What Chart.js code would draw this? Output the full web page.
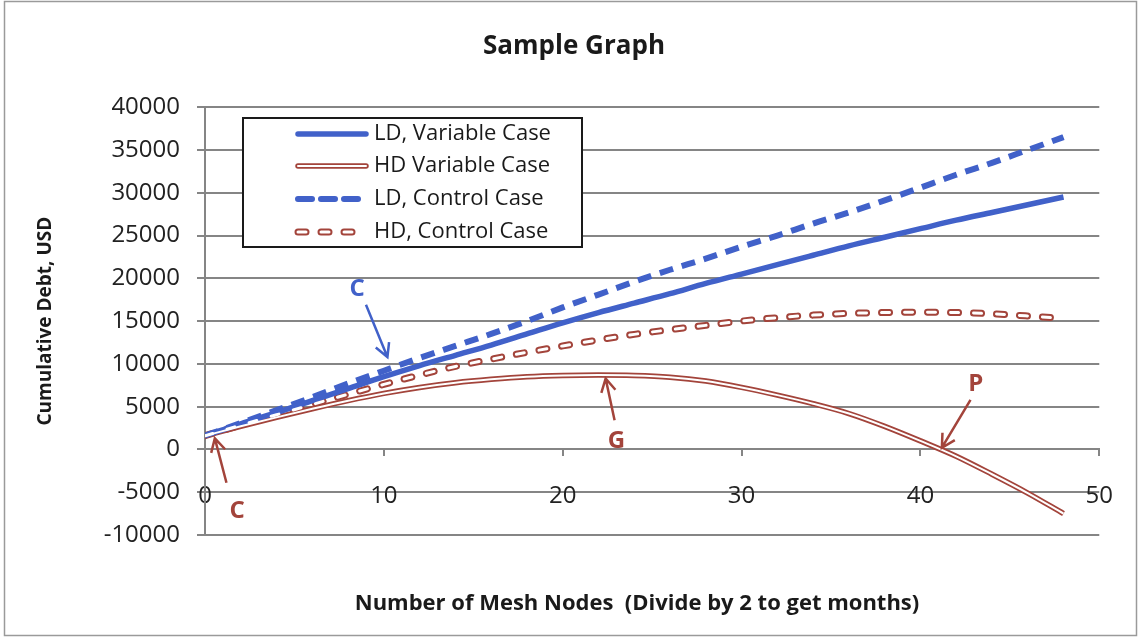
<!DOCTYPE html>
<html lang="en">
<head>
  <meta charset="UTF-8" />
  <title>Sample Graph</title>
  <script src="https://cdn.jsdelivr.net/npm/chart.js"></script>
  <style>
    html, body { margin: 0; padding: 0; background: #fff; }
  </style>
</head>
<body>
  <canvas id="chart" width="1139" height="638"></canvas>

  <script>
    // mesh nodes (x) and cumulative debt in USD
    const nodes = [0, 2, 4, 6, 8, 10, 12, 14, 16, 18, 20, 22, 24, 26, 28, 30, 32, 34, 36, 38, 40, 42, 44, 46, 48];
    const ldVariable = [1600, 3000, 4300, 5700, 7100, 8500, 9800, 11000, 12200, 13500, 14800, 16000, 17100, 18200, 19400, 20500, 21600, 22700, 23800, 24800, 25800, 26800, 27700, 28600, 29500];
    const hdVariable = [1600, 2700, 3750, 4750, 5700, 6550, 7250, 7800, 8200, 8500, 8650, 8700, 8650, 8450, 8000, 7250, 6350, 5350, 4200, 2700, 1000, -800, -2900, -5100, -7500];
    const ldControl = [1600, 3100, 4600, 6100, 7700, 9200, 10700, 12100, 13500, 15000, 16600, 18100, 19600, 21000, 22300, 23700, 25000, 26400, 27700, 29100, 30600, 32100, 33500, 35000, 36500];
    const hdControl = [1600, 2850, 4050, 5250, 6450, 7600, 8700, 9700, 10550, 11350, 12100, 12800, 13450, 14000, 14500, 15000, 15400, 15700, 15900, 16000, 16050, 16000, 15850, 15600, 15300];

    const seriesNames = ["LD, Variable Case", "HD Variable Case", "LD, Control Case", "HD, Control Case"];

    // hand-drawn callouts: letter position, arrow tail and arrow tip (in data units)
    const callouts = [
      { text: "C", color: "blue", at: [8.5, 18700], from: [9.0, 16900], to: [10.2, 10800] },
      { text: "C", color: "brown", at: [1.8, -7200], from: [1.2, -3900], to: [0.55, 1300] },
      { text: "G", color: "brown", at: [23.0, 1000], from: [22.9, 3400], to: [22.4, 8300] },
      { text: "P", color: "brown", at: [43.1, 7600], from: [42.8, 5800], to: [41.2, 200] }
    ];

    const BLUE = "#4161c9";
    const BROWN = "#a3443b";
    const GRID = "#858585";
    const FONT = "'Open Sans', Lato, sans-serif";
    const colorOf = { blue: BLUE, brown: BROWN };

    const pts = arr => nodes.map((x, i) => ({ x: x, y: arr[i] }));

    const base = { pointRadius: 0, fill: false, cubicInterpolationMode: "monotone", order: 1 };

    // the HD series are double lines: a brown stroke with a thin white one on top (order 0 = drawn last)
    const datasets = [
      { ...base, label: seriesNames[0], data: pts(ldVariable), borderColor: BLUE, borderWidth: 5.5 },
      { ...base, label: seriesNames[1], data: pts(hdVariable), borderColor: BROWN, borderWidth: 5.5 },
      { ...base, label: seriesNames[1] + " inner", data: pts(hdVariable), borderColor: "#fff", borderWidth: 2, order: 0 },
      { ...base, label: seriesNames[2], data: pts(ldControl), borderColor: BLUE, borderWidth: 6, borderDash: [14, 9] },
      { ...base, label: seriesNames[3], data: pts(hdControl), borderColor: BROWN, borderWidth: 7, borderDash: [8, 15], borderCapStyle: "round" },
      { ...base, label: seriesNames[3] + " inner", data: pts(hdControl), borderColor: "#fff", borderWidth: 3, borderDash: [8, 15], borderCapStyle: "round", order: 0 }
    ];

    function arrow(ctx, x1, y1, x2, y2) {
      const a = Math.atan2(y2 - y1, x2 - x1);
      const len = 15, spread = 0.5;
      ctx.beginPath();
      ctx.moveTo(x1, y1);
      ctx.lineTo(x2, y2);
      ctx.moveTo(x2 - len * Math.cos(a - spread), y2 - len * Math.sin(a - spread));
      ctx.lineTo(x2, y2);
      ctx.lineTo(x2 - len * Math.cos(a + spread), y2 - len * Math.sin(a + spread));
      ctx.stroke();
    }

    const decorations = {
      id: "decorations",
      beforeDraw(chart) {
        const ctx = chart.ctx;
        ctx.save();
        ctx.fillStyle = "#fff";
        ctx.fillRect(0, 0, chart.width, chart.height);
        ctx.strokeStyle = "#9a9a9a";
        ctx.lineWidth = 1.5;
        ctx.strokeRect(4.5, 1.5, chart.width - 7, chart.height - 4);
        ctx.restore();
      },
      afterDatasetsDraw(chart) {
        const ctx = chart.ctx;
        const xs = chart.scales.x, ys = chart.scales.y;
        ctx.save();

        // callouts
        callouts.forEach(c => {
          const col = colorOf[c.color];
          ctx.strokeStyle = col;
          ctx.fillStyle = col;
          ctx.lineWidth = 2.5;
          arrow(ctx, xs.getPixelForValue(c.from[0]), ys.getPixelForValue(c.from[1]),
                     xs.getPixelForValue(c.to[0]), ys.getPixelForValue(c.to[1]));
          ctx.font = "bold 24px " + FONT;
          ctx.textAlign = "center";
          ctx.textBaseline = "middle";
          ctx.fillText(c.text, xs.getPixelForValue(c.at[0]), ys.getPixelForValue(c.at[1]));
        });

        // boxed legend
        const lx = 243, ly = 118, lw = 339, lh = 129;
        ctx.fillStyle = "#fff";
        ctx.fillRect(lx, ly, lw, lh);
        ctx.strokeStyle = "#1a1a1a";
        ctx.lineWidth = 2;
        ctx.strokeRect(lx, ly, lw, lh);

        const rows = [134, 166, 199, 232];
        const drawSample = (y, color, width, dash, cap) => {
          ctx.beginPath();
          ctx.setLineDash(dash);
          ctx.lineCap = cap;
          ctx.strokeStyle = color;
          ctx.lineWidth = width;
          ctx.moveTo(298, y);
          ctx.lineTo(366, y);
          ctx.stroke();
        };
        drawSample(rows[0], BLUE, 5.5, [], "round");
        drawSample(rows[1], BROWN, 5.5, [], "round");
        drawSample(rows[1], "#fff", 2, [], "round");
        drawSample(rows[2], BLUE, 6, [14, 9], "round");
        drawSample(rows[3], BROWN, 7, [8, 15], "round");
        drawSample(rows[3], "#fff", 3, [8, 15], "round");
        ctx.setLineDash([]);

        ctx.fillStyle = "#1a1a1a";
        ctx.font = "22px " + FONT;
        ctx.textAlign = "left";
        ctx.textBaseline = "middle";
        seriesNames.forEach((name, i) => ctx.fillText(name, 374, rows[i]));

        // x axis title sits under the plot, not at the zero line
        ctx.font = "bold 22px " + FONT;
        ctx.textAlign = "center";
        ctx.fillText("Number of Mesh Nodes  (Divide by 2 to get months)", 637, 604);
        ctx.restore();
      }
    };

    new Chart(document.getElementById("chart"), {
      type: "line",
      data: { datasets: datasets },
      plugins: [decorations],
      options: {
        responsive: false,
        animation: false,
        layout: { padding: { left: 47, right: 38, top: 0, bottom: 103 } },
        plugins: {
          legend: { display: false },
          tooltip: { enabled: false },
          title: {
            display: true,
            text: "Sample Graph",
            color: "#1a1a1a",
            font: { family: FONT, size: 26, weight: "bold" },
            padding: { top: 31, bottom: 45 }
          }
        },
        scales: {
          x: {
            type: "linear",
            min: 0,
            max: 50,
            position: { y: 0 },
            ticks: { stepSize: 10, padding: 26, color: "#222", font: { family: FONT, size: 24 } },
            grid: { drawOnChartArea: false, drawTicks: true, tickLength: 6, color: GRID, lineWidth: 2 },
            border: { display: true, color: GRID, width: 2 }
          },
          y: {
            min: -10000,
            max: 40000,
            ticks: { stepSize: 5000, padding: 17, color: "#222", font: { family: FONT, size: 24 }, callback: v => String(v) },
            grid: { color: GRID, lineWidth: 2, tickLength: 8 },
            border: { color: GRID, width: 2 },
            title: {
              display: true,
              text: "Cumulative Debt, USD",
              color: "#1a1a1a",
              font: { family: FONT, size: 19, weight: "bold" },
              padding: { top: -13, bottom: 0 }
            },
            afterFit: s => { s.width = 158; }
          }
        }
      }
    });
  </script>
</body>
</html>
